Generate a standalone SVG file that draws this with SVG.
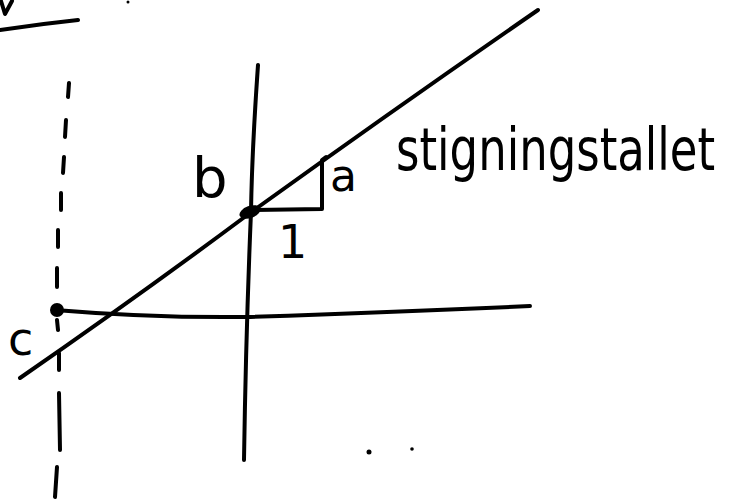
<svg xmlns="http://www.w3.org/2000/svg" width="741" height="501" viewBox="0 0 741 501">
<style>
.s{fill:none;stroke:#000;stroke-width:4;stroke-linecap:round;stroke-linejoin:round}
.t{font-family:"DejaVu Sans","Liberation Sans",sans-serif;fill:#000}
</style>
<rect width="741" height="501" fill="#fff"/>
<g id="fragments">
<path class="s" d="M1,1 L5,14 L12,1"/>
<path class="s" d="M0,30 Q40,24 78,20"/>
<circle cx="128" cy="2" r="1.5"/>
<circle cx="369" cy="452" r="2.5"/>
<circle cx="412" cy="449" r="1.8"/>
</g>
<g id="axes">
<path id="y-axis" class="s" d="M258,65 Q252,150 251,212 Q246,330 244,460"/>
<path id="x-axis" class="s" d="M55,310 Q150,318 245,317 Q400,312 530,306"/>
<path id="dashed" class="s" d="M69,83 L68,97 M66,120 L65,137 M64,157 L63,173 M61,193 L61,210 M58,230 L58,247 M57,268 L57,287 M57,320 L58,330 M59,353 L59,370 M59,393 L60,450 M57,467 L55,497"/>
</g>
<g id="line">
<path class="s" d="M20,378 Q140,295 250,213 Q400,105 538,10"/>
</g>
<g id="slope-triangle">
<path class="s" d="M250,210 L322,209 L322,160 L326,157"/>
</g>
<g id="points">
<ellipse cx="250" cy="212" rx="11" ry="6" transform="rotate(-20 250 212)"/>
<circle cx="57" cy="310" r="7"/>
</g>
<g id="labels">
<text class="t" x="192" y="197" font-size="56">b</text>
<text class="t" x="278" y="258" font-size="46">1</text>
<text class="t" x="330" y="191" font-size="44">a</text>
<text class="t" x="8" y="355" font-size="46">c</text>
<text class="t" x="0" y="0" font-size="45" transform="translate(396,170) scale(1,1.3)">stigningstallet</text>
</g>
</svg>
